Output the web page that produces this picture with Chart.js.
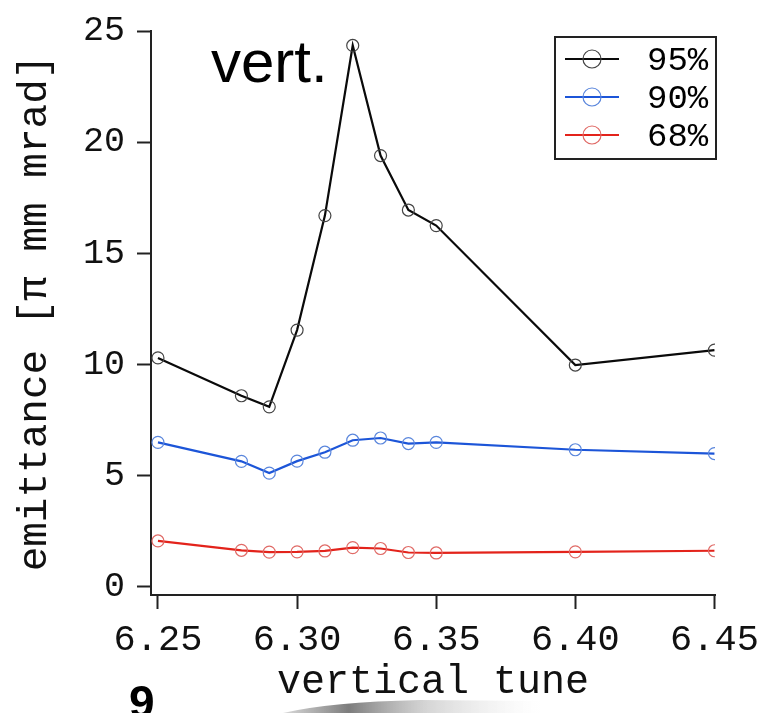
<!DOCTYPE html>
<html>
<head>
<meta charset="utf-8">
<script src="https://cdn.jsdelivr.net/npm/chart.js@4"></script>
<style>
  html, body { margin: 0; padding: 0; background: #fff; }
  #wrap { width: 766px; height: 713px; }
</style>
</head>
<body>
<div id="wrap"><canvas id="chart"></canvas></div>
<script>
const tune = [6.25, 6.28, 6.29, 6.30, 6.31, 6.32, 6.33, 6.34, 6.35, 6.40, 6.45];
const em95 = [10.3, 8.6, 8.1, 11.55, 16.7, 24.35, 19.4, 16.95, 16.25, 9.98, 10.65];
const em90 = [6.5, 5.65, 5.12, 5.66, 6.06, 6.6, 6.7, 6.45, 6.5, 6.17, 6.0];
const em68 = [2.07, 1.65, 1.57, 1.58, 1.62, 1.77, 1.73, 1.55, 1.53, 1.58, 1.63];
const seriesNames = ['95%', '90%', '68%'];
const xTicks = [6.25, 6.30, 6.35, 6.40, 6.45];
const yTicks = [0, 5, 10, 15, 20, 25];

const mono = 'Liberation Mono';
const ink = '#111';

function points(ys) {
    return tune.map((t, i) => ({ x: t, y: ys[i] }));
}

function series(label, ys, lineColor, markColor) {
    return {
        label: label,
        data: points(ys),
        borderColor: lineColor,
        borderWidth: 2.2,
        pointStyle: 'circle',
        pointRadius: 6,
        pointHoverRadius: 6,
        pointBorderWidth: 1.2,
        pointBorderColor: markColor,
        pointBackgroundColor: 'rgba(0,0,0,0)',
        fill: false,
        tension: 0,
    };
}

// annotations: panel label, boxed legend, page number and the grey curl at the bottom
const extras = {
    id: 'extras',
    afterDraw(chart) {
        const ctx = chart.ctx;
        ctx.save();

        ctx.fillStyle = '#000';
        ctx.font = '60px "Liberation Sans"';
        ctx.textAlign = 'left';
        ctx.textBaseline = 'alphabetic';
        ctx.fillText('vert.', 211, 82);

        // legend
        ctx.fillStyle = '#fff';
        ctx.fillRect(555, 37, 161, 122);
        ctx.strokeStyle = '#222';
        ctx.lineWidth = 2;
        ctx.strokeRect(555, 37, 161, 122);
        chart.data.datasets.forEach((ds, i) => {
            const y = 59 + i * 38;
            ctx.strokeStyle = ds.borderColor;
            ctx.lineWidth = 2;
            ctx.beginPath();
            ctx.moveTo(565, y);
            ctx.lineTo(619, y);
            ctx.stroke();
            ctx.strokeStyle = ds.pointBorderColor;
            ctx.lineWidth = 1.2;
            ctx.beginPath();
            ctx.arc(592, y, 9, 0, Math.PI * 2);
            ctx.stroke();
            ctx.fillStyle = '#000';
            ctx.font = '34px "' + mono + '"';
            ctx.textBaseline = 'middle';
            ctx.fillText(ds.label, 647, y + 2);
        });

        // page curl shadow
        const g = ctx.createLinearGradient(285, 0, 540, 0);
        g.addColorStop(0, 'rgba(120,120,120,0.3)');
        g.addColorStop(0.25, 'rgba(110,110,110,0.9)');
        g.addColorStop(0.55, 'rgba(170,170,170,0.5)');
        g.addColorStop(1, 'rgba(220,220,220,0)');
        ctx.fillStyle = g;
        ctx.beginPath();
        ctx.moveTo(283, 713);
        ctx.quadraticCurveTo(330, 702, 420, 700);
        ctx.lineTo(540, 701);
        ctx.lineTo(540, 713);
        ctx.closePath();
        ctx.fill();

        ctx.fillStyle = '#000';
        ctx.font = 'bold 46px "Liberation Sans"';
        ctx.textBaseline = 'alphabetic';
        ctx.fillText('9', 129, 718);

        ctx.restore();
    }
};

new Chart(document.getElementById('chart'), {
    type: 'line',
    data: {
        datasets: [
            series(seriesNames[0], em95, '#0a0a0a', '#444'),
            series(seriesNames[1], em90, '#1c55d8', '#5a86dc'),
            series(seriesNames[2], em68, '#e3231b', '#e06a66'),
        ]
    },
    options: {
        responsive: true,
        maintainAspectRatio: false,
        animation: false,
        layout: {
            padding: { left: 0, top: 31, right: 51, bottom: 0 }
        },
        scales: {
            x: {
                type: 'linear',
                min: 6.2475,
                max: 6.4502,
                afterFit: (scale) => {
                    scale.height = 118;
                    scale.paddingLeft = 0;
                    scale.paddingRight = 0;
                },
                afterBuildTicks: (scale) => { scale.ticks = xTicks.map(v => ({ value: v })); },
                border: { display: true, color: '#222', width: 2 },
                grid: {
                    drawOnChartArea: false,
                    drawTicks: true,
                    tickLength: 14,
                    tickColor: '#222',
                    tickWidth: 2,
                },
                ticks: {
                    color: ink,
                    padding: 9,
                    maxRotation: 0,
                    font: { family: mono, size: 37 },
                    callback: (v) => Number(v).toFixed(2),
                },
                title: {
                    display: true,
                    text: 'vertical tune',
                    color: ink,
                    font: { family: mono, size: 40 },
                    padding: { top: 0, bottom: 7 },
                },
            },
            y: {
                min: -0.36,
                max: 25,
                afterFit: (scale) => {
                    scale.width = 151;
                    scale.paddingTop = 0;
                    scale.paddingBottom = 0;
                },
                afterBuildTicks: (scale) => { scale.ticks = yTicks.map(v => ({ value: v })); },
                border: { display: true, color: '#222', width: 2 },
                grid: {
                    drawOnChartArea: false,
                    drawTicks: true,
                    tickLength: 14,
                    tickColor: '#222',
                    tickWidth: 2,
                },
                ticks: {
                    color: ink,
                    padding: 12,
                    font: { family: mono, size: 35 },
                },
                title: {
                    display: true,
                    text: 'emittance [π mm mrad]',
                    color: ink,
                    font: { family: mono, size: 41 },
                    padding: { top: 11, bottom: 0 },
                },
            },
        },
        plugins: {
            legend: { display: false },
            tooltip: { enabled: false },
        },
    },
    plugins: [extras],
});
</script>
</body>
</html>
